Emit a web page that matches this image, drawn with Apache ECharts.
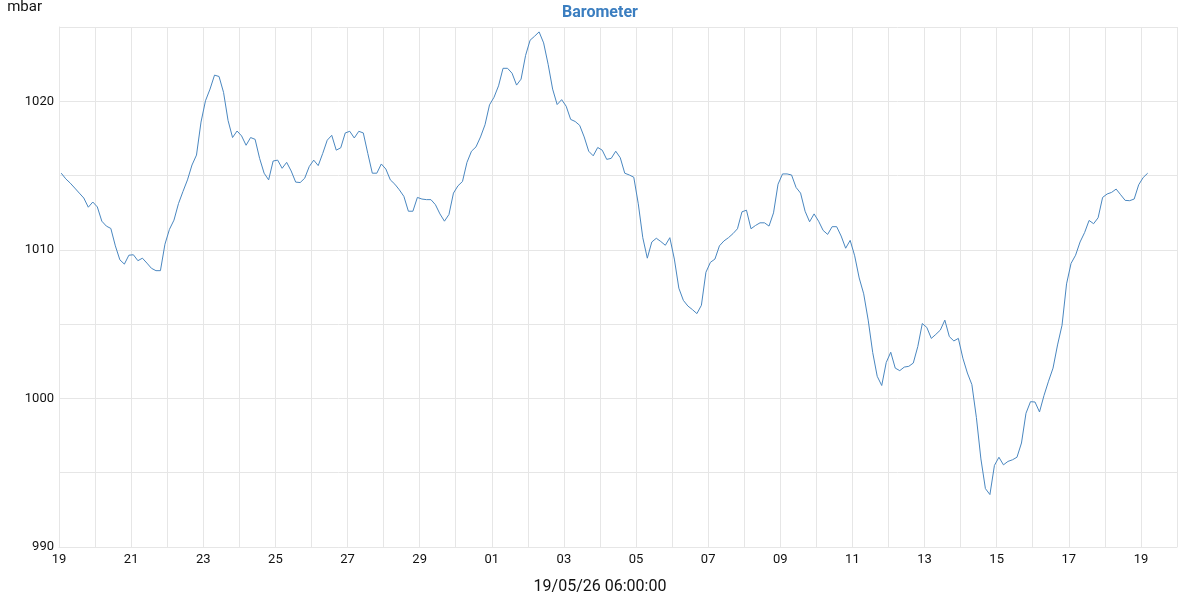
<!DOCTYPE html>
<html>
<head>
<meta charset="utf-8">
<script src="https://cdn.jsdelivr.net/npm/echarts@6/dist/echarts.min.js"></script>
<style>
html,body{margin:0;padding:0;background:#fff;}
#chart{width:1200px;height:600px;}
</style>
</head>
<body>
<div id="chart"></div>
<script>
// ---- data ----
var chartTitle = 'Barometer';
var unitName = 'mbar';
var timestampLabel = '19/05/26 06:00:00';
var axisStart = Date.UTC(2026, 3, 19, 0, 0);   // 19 Apr 00:00
var axisEnd = Date.UTC(2026, 4, 20, 0, 0);     // 20 May 00:00
var firstSample = Date.UTC(2026, 3, 19, 1, 30);
var sampleStepHours = 3;
var pressureValues = [
  1015.16, 1014.78, 1014.49, 1014.16, 1013.82, 1013.49, 1012.87, 1013.22, 1012.89, 1011.93,
  1011.6, 1011.44, 1010.27, 1009.33, 1009.04, 1009.64, 1009.67, 1009.27, 1009.44, 1009.11,
  1008.76, 1008.6, 1008.6, 1010.38, 1011.38, 1012.0, 1013.11, 1013.93, 1014.71, 1015.71,
  1016.38, 1018.6, 1020.04, 1020.82, 1021.76, 1021.67, 1020.6, 1018.71, 1017.56, 1018.0,
  1017.67, 1017.04, 1017.56, 1017.44,
  1016.16, 1015.16, 1014.71, 1015.98, 1016.04, 1015.49, 1015.89, 1015.31, 1014.56, 1014.53,
  1014.82, 1015.6, 1016.04, 1015.67, 1016.49, 1017.38, 1017.71, 1016.71, 1016.87, 1017.87,
  1017.98, 1017.53, 1017.98, 1017.87, 1016.49, 1015.16, 1015.16, 1015.78, 1015.44, 1014.71,
  1014.42, 1014.04, 1013.6, 1012.6, 1012.6, 1013.53, 1013.42, 1013.38, 1013.38, 1013.04,
  1012.42, 1011.93, 1012.38,
  1013.82, 1014.31, 1014.6, 1015.89, 1016.64, 1016.93, 1017.6, 1018.42, 1019.76, 1020.27,
  1021.04, 1022.22, 1022.22, 1021.89, 1021.09, 1021.49, 1023.09, 1024.11, 1024.38, 1024.67,
  1023.93, 1022.49, 1020.82, 1019.78, 1020.11, 1019.67, 1018.78, 1018.64, 1018.38, 1017.6,
  1016.64, 1016.33, 1016.89, 1016.71, 1016.09, 1016.16, 1016.64, 1016.2, 1015.16, 1015.04,
  1014.89,
  1013.1, 1010.82, 1009.44, 1010.53, 1010.78, 1010.56, 1010.31, 1010.82, 1009.38, 1007.42,
  1006.6, 1006.22, 1005.98, 1005.71, 1006.27, 1008.49, 1009.16, 1009.38, 1010.27, 1010.6,
  1010.82, 1011.09, 1011.42, 1012.56, 1012.67, 1011.42, 1011.64, 1011.82, 1011.82, 1011.6,
  1012.49, 1014.42, 1015.11, 1015.11, 1015.04, 1014.2, 1013.82, 1012.6, 1011.89, 1012.42,
  1011.93, 1011.31, 1011.04,
  1011.56, 1011.56, 1010.93, 1010.11, 1010.64, 1009.6, 1008.11, 1007.04, 1005.27, 1003.09,
  1001.49, 1000.87, 1002.42, 1003.11, 1002.04, 1001.87, 1002.11, 1002.16, 1002.38, 1003.49,
  1005.04, 1004.78, 1004.04, 1004.31, 1004.6, 1005.27, 1004.16, 1003.87, 1004.04, 1002.71,
  1001.71, 1000.93, 998.71, 995.93, 993.93, 993.53, 995.49, 996.04, 995.53, 995.76,
  995.87, 996.04,
  997.0, 999.0, 999.78, 999.76, 999.09, 1000.2, 1001.16, 1002.04, 1003.6, 1004.93,
  1007.71, 1009.09, 1009.64, 1010.53, 1011.16, 1011.98, 1011.76, 1012.16, 1013.53, 1013.76,
  1013.87, 1014.09, 1013.71, 1013.33, 1013.31, 1013.42, 1014.38, 1014.87, 1015.16
];
var yMin = 990, yMax = 1025, yGridStep = 5, yLabelStep = 10;

// ---- build ----
var DAY = 86400000;
var seriesData = pressureValues.map(function (v, i) {
  return [firstSample + i * sampleStepHours * 3600000, v];
});

var chart = echarts.init(document.getElementById('chart'), null, {renderer: 'canvas'});
var font = 'Roboto, "Noto Sans", sans-serif';
chart.setOption({
  animation: false,
  backgroundColor: '#ffffff',
  title: {
    text: chartTitle,
    left: 'center',
    top: 0,
    textStyle: {color: '#3b7ec0', fontSize: 16, fontWeight: 'bold', fontFamily: font}
  },
  grid: {left: 59, right: 23, top: 27, bottom: 48, containLabel: false},
  xAxis: {
    type: 'value',
    min: axisStart,
    max: axisEnd,
    interval: DAY,
    name: timestampLabel,
    nameLocation: 'middle',
    nameGap: 32,
    nameTextStyle: {color: '#111', fontSize: 16, fontFamily: font, padding: [0, 36, 0, 0]},
    axisLine: {show: true, lineStyle: {color: '#e6e6e6'}},
    axisTick: {show: false},
    splitLine: {show: true, lineStyle: {color: '#e6e6e6'}},
    axisLabel: {
      color: '#111', fontSize: 13, fontFamily: font, margin: 6,
      showMaxLabel: true, showMinLabel: true,
      formatter: function (v) {
        var idx = Math.round((v - axisStart) / DAY);
        if (idx % 2 !== 0) return '';
        var d = new Date(v).getUTCDate();
        return (d < 10 ? '0' : '') + d;
      }
    }
  },
  yAxis: {
    type: 'value',
    min: yMin,
    max: yMax,
    interval: yGridStep,
    name: unitName,
    nameLocation: 'end',
    nameGap: 12,
    nameTextStyle: {color: '#111', fontSize: 15, fontFamily: font, align: 'right', padding: [0, 17, 0, 0]},
    axisLine: {show: true, lineStyle: {color: '#e6e6e6'}},
    axisTick: {show: false},
    splitLine: {show: true, lineStyle: {color: '#e6e6e6'}},
    axisLabel: {
      color: '#111', fontSize: 13, fontFamily: font, margin: 5,
      formatter: function (v) {
        return (Math.round(v) % yLabelStep === 0 && v < yMax) ? String(v) : '';
      }
    }
  },
  series: [{
    type: 'line',
    data: seriesData,
    showSymbol: false,
    symbol: 'none',
    lineStyle: {color: '#4a87c0', width: 1},
    itemStyle: {color: '#4a87c0'}
  }]
});
</script>
</body>
</html>
